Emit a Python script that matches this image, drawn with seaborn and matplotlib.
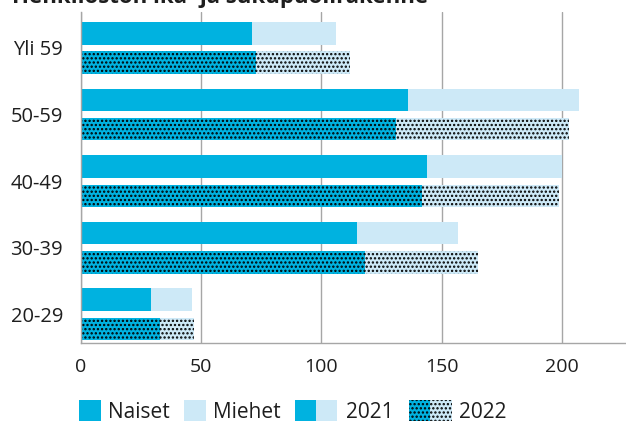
import matplotlib
matplotlib.use("Agg")
from matplotlib import pyplot as plt
from matplotlib.patches import Rectangle
import seaborn as sns
import pandas as pd

# ------------------------------------------------
# ----- Datos ------------------------------------
# ------------------------------------------------
ages = ["Yli 59", "50-59", "40-49", "30-39", "20-29"]
years = ["2021", "2022"]
naiset_2021 = [71, 136, 144, 115, 29]
miehet_2021 = [35, 71, 56, 42, 17]
naiset_2022 = [73, 131, 142, 118, 33]
miehet_2022 = [39, 72, 57, 47, 14]
xticks = [0, 50, 100, 150, 200]
title = "Henkilöstön ikä- ja sukupuolirakenne"
legend_labels = ["Naiset", "Miehet", "2021", "2022"]

BLUE = "#00b2e0"
LIGHT = "#cde9f7"
GRID = "#a6a6a6"
TXT = "#1e1e1e"

rows = []
for i, a in enumerate(ages):
    rows.append({"age": a, "year": "2021", "naiset": naiset_2021[i],
                 "total": naiset_2021[i] + miehet_2021[i]})
    rows.append({"age": a, "year": "2022", "naiset": naiset_2022[i],
                 "total": naiset_2022[i] + miehet_2022[i]})
df = pd.DataFrame(rows)

sns.set_theme(style="white")
plt.rcParams["font.family"] = ["Open Sans", "DejaVu Sans"]
plt.rcParams["hatch.linewidth"] = 1.1

W, H = 626, 421
fig = plt.figure(figsize=(W / 100, H / 100), dpi=100)
ax = fig.add_axes([81 / W, (H - 343) / H, 1 - 81 / W, (343 - 12) / H])

common = dict(data=df, y="age", hue="year", order=ages, hue_order=years,
              dodge=True, width=0.88, gap=0.23, legend=False, ax=ax,
              saturation=1, linewidth=0)
sns.barplot(x="total", palette=[LIGHT, LIGHT], **common)
sns.barplot(x="naiset", palette=[BLUE, BLUE], **common)

# 2022 palkit pisteillä
for idx in (1, 3):
    for p in ax.containers[idx]:
        p.set_hatch("....")
        p.set_edgecolor("black")
        p.set_linewidth(0)

ax.set_xlim(0, (W - 81) / 2.4035)
ax.set_ylim(4.43, -0.54)
ax.set_xticks(xticks)
ax.set_xlabel("")
ax.set_ylabel("")
ax.grid(axis="x", color=GRID, lw=1)
ax.set_axisbelow(True)
for s in ["top", "right"]:
    ax.spines[s].set_visible(False)
for s in ["left", "bottom"]:
    ax.spines[s].set_color(GRID)
    ax.spines[s].set_linewidth(1)
ax.tick_params(axis="x", length=0, pad=11, labelsize=14, labelcolor=TXT)
ax.tick_params(axis="y", length=0, pad=13, labelsize=14.5, labelcolor=TXT)

fig.text(12 / W, 1 - 3 / H, title, fontsize=16, fontweight="bold",
         color=TXT, va="baseline", ha="left")

# ------------------------------------------------
# ----- Selite -----------------------------------
# ------------------------------------------------
def rect(x0, x1, color, hatch=None):
    r = Rectangle((x0 / W, 0), (x1 - x0) / W, (H - 400) / H,
                  transform=fig.transFigure, facecolor=color,
                  edgecolor="black" if hatch else color, lw=0, hatch=hatch)
    fig.add_artist(r)

rect(79, 101, BLUE)
rect(184, 206, LIGHT)
rect(295, 316, BLUE)
rect(316, 337, LIGHT)
rect(409, 430, BLUE, "....")
rect(430, 452, LIGHT, "....")
for x, lab in zip([108, 213, 346, 459], legend_labels):
    fig.text(x / W, 1 - 418 / H, lab, fontsize=15, color=TXT,
             va="baseline", ha="left")

fig.savefig("out.png", dpi=100)
